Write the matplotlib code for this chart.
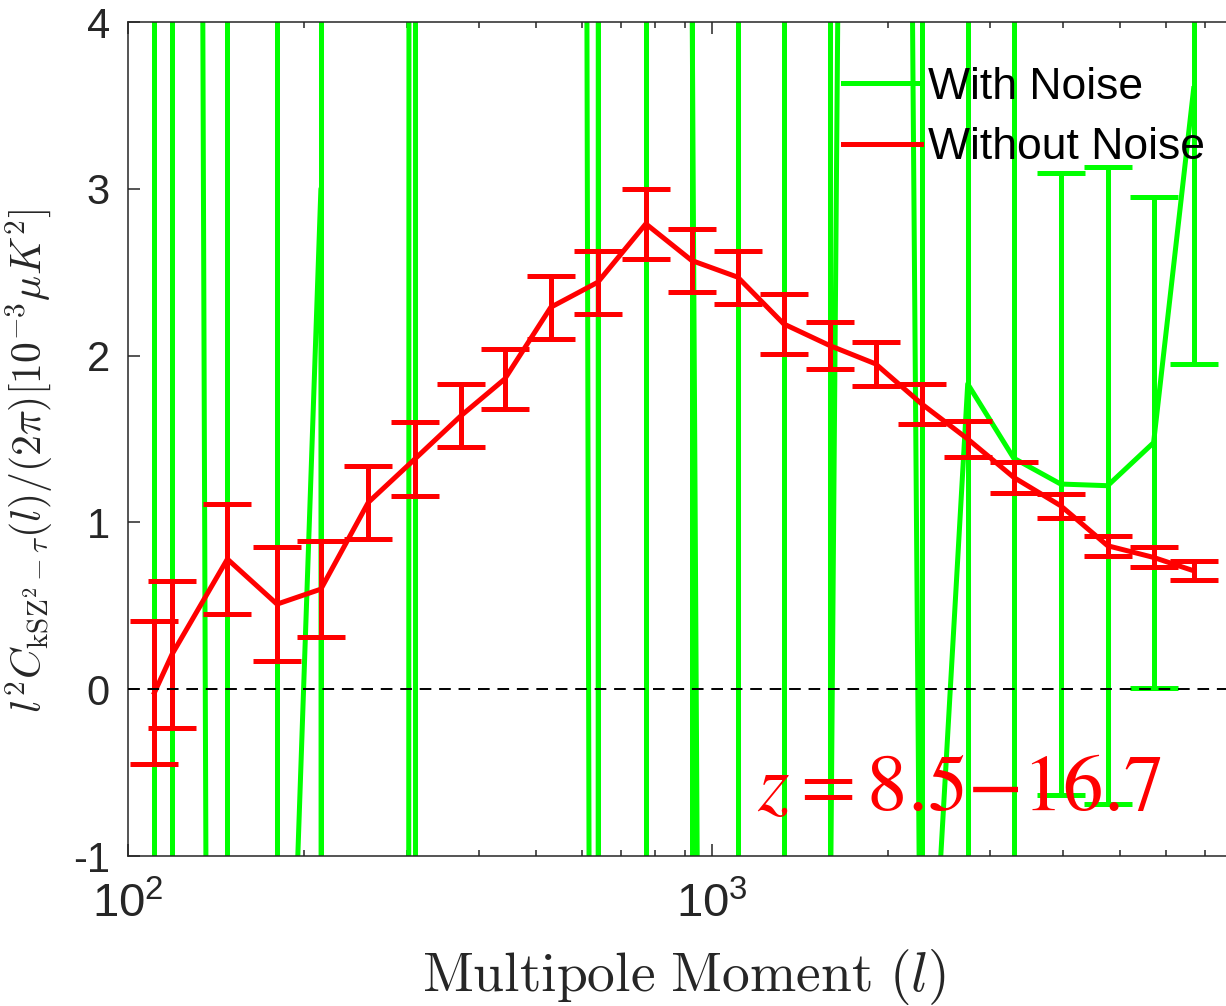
import numpy as np
import matplotlib.pyplot as plt
from matplotlib.lines import Line2D

# multipole bins
ell = [111, 119, 148, 180, 214, 258, 310, 372, 442, 530, 638, 771,
       924, 1108, 1328, 1593, 1909, 2289, 2744, 3290, 3959, 4765, 5712, 6690]

# without noise
red = [-0.02, 0.21, 0.78, 0.51, 0.60, 1.12, 1.38, 1.64, 1.86, 2.29, 2.44, 2.79,
       2.57, 2.47, 2.19, 2.06, 1.95, 1.71, 1.50, 1.27, 1.10, 0.86, 0.79, 0.71]
red_err = [0.43, 0.44, 0.33, 0.34, 0.29, 0.22, 0.22, 0.19, 0.18, 0.19, 0.19, 0.21,
           0.19, 0.16, 0.18, 0.14, 0.13, 0.12, 0.11, 0.095, 0.073, 0.061, 0.06, 0.058]

# with noise (mostly far off scale)
green = [20, 54, -36, -4.6, 3.0, -1000, 150, 80, 60, 90, -22, 3000,
         4.5, -42, -60, -1.8, 32, -3.0, 1.83, 1.385, 1.23, 1.22, 1.478, 3.6]
green_err = [30, 60, 45, 10, 6, 500, 200, 40, 30, 40, 40, 3100,
             10, 50, 70, 10, 20, 12, 8, 7, 1.865, 1.91, 1.47, 1.65]

yticks = [-1, 0, 1, 2, 3, 4]
ytick_labels = ['-1', '0', '1', '2', '3', '4']
xticks = [100, 1000]
xtick_labels = [r'$\mathregular{10^{2}}$', r'$\mathregular{10^{3}}$']

plt.rcParams['font.family'] = ['Liberation Sans', 'DejaVu Sans']

W, H = 1226, 1006
fig = plt.figure(figsize=(W / 100, H / 100), dpi=100)
ax = fig.add_axes([128 / W, 150 / H, 1111 / W, 834 / H])

lime = (0, 1, 0)
lw = 3.6
ax.errorbar(ell, green, yerr=green_err, color=lime, lw=lw, elinewidth=lw,
            capsize=17.5, capthick=lw, zorder=2)
ax.errorbar(ell, red, yerr=red_err, color='red', lw=lw, elinewidth=lw,
            capsize=17.5, capthick=lw, zorder=3)
ax.axhline(0, color='k', lw=1.4, ls=(0, (6, 4)), zorder=4)

ax.set_xscale('log')
ax.set_yticks(yticks)
ax.set_yticklabels(ytick_labels)
ax.set_xticks(xticks)
ax.set_xticklabels(xtick_labels)
ax.set_xticks([k * d for d in (100, 1000) for k in range(2, 10)], minor=True)
ax.set_xticklabels([], minor=True)
ax.set_xlim(100, 8000)
ax.set_ylim(-1, 4)

grey = '#262626'
for s in ax.spines.values():
    s.set_color(grey)
    s.set_linewidth(1.1)
ax.tick_params(which='both', direction='in', top=True, right=False, color=grey,
               width=1.1, labelcolor=grey)
ax.tick_params(which='major', length=8.6)
ax.tick_params(which='minor', length=4.3)
ax.tick_params(axis='y', labelsize=30, pad=13)
ax.tick_params(axis='x', labelsize=34, pad=19)

ax.set_xlabel(r'$\mathrm{Multipole\ Moment}\ (l)$', fontsize=40,
              math_fontfamily='cm', color=grey, labelpad=14)
ax.set_ylabel(r'$l^2C_{\mathrm{kSZ}^2-\tau}(l)/(2\pi)[10^{-3}\mu K^2]$',
              fontsize=30, math_fontfamily='cm', color=grey)
ax.yaxis.set_label_coords(-0.066, 0.474)

fig.text(757 / W, 1 - 810 / H, r'$z = 8.5{-}16.7$', color='red',
         fontsize=58, math_fontfamily='stix', ha='left', va='baseline')

handles = [Line2D([], [], color=lime, lw=lw), Line2D([], [], color='red', lw=lw)]
ax.legend(handles, ['With Noise', 'Without Noise'], loc='upper left',
          bbox_to_anchor=(843 / W, 1 - 67 / H), bbox_transform=fig.transFigure,
          frameon=False, fontsize=32, handlelength=1.76, handletextpad=0.16,
          borderpad=0, borderaxespad=0, labelspacing=0.43)

fig.savefig('out.png', dpi=100)
